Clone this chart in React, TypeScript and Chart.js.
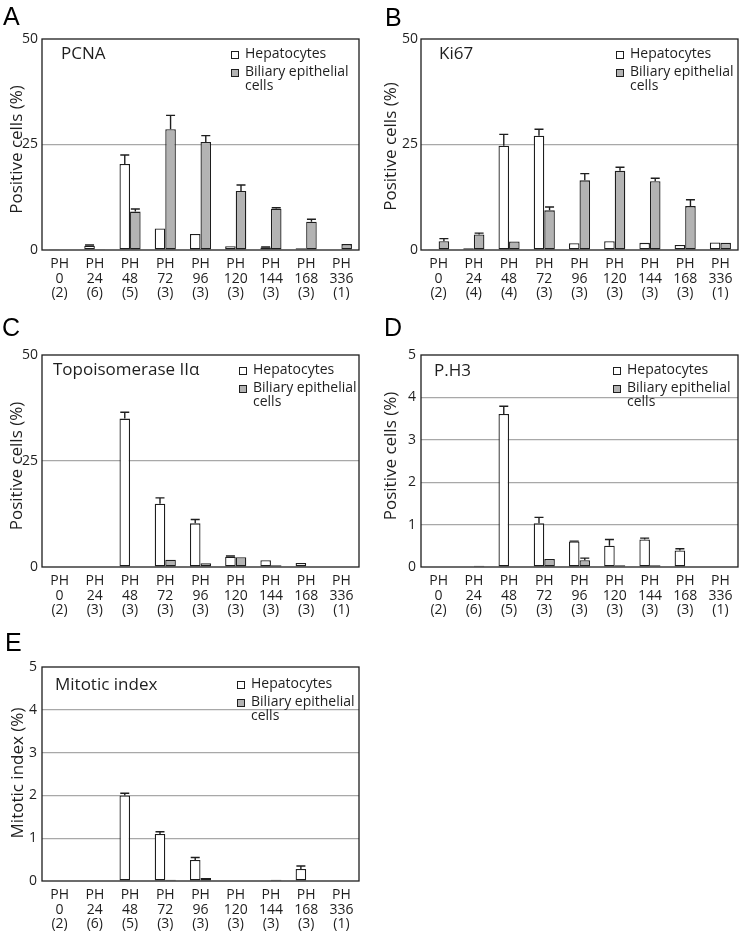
import React, { useEffect, useRef } from 'react';
import { Chart, registerables } from 'chart.js';

Chart.register(...registerables);

const FONT = '"Open Sans", "Noto Sans", sans-serif';
const INK = '#1e1e1e';
const GRAY = '#b3b3b3';
const GRID = '#a8a8a8';

// ---------- data ----------
const timePoints = ['0', '24', '48', '72', '96', '120', '144', '168', '336'];
const nPCNA = ['2', '6', '5', '3', '3', '3', '3', '3', '1'];
const nKi67 = ['2', '4', '4', '3', '3', '3', '3', '3', '1'];
const nTopo = ['2', '3', '3', '3', '3', '3', '3', '3', '1'];
const nPH3 = ['2', '6', '5', '3', '3', '3', '3', '3', '1'];
const nMitotic = ['2', '6', '5', '3', '3', '3', '3', '3', '1'];

const pcnaHep = [0.05, 1.0, 20.4, 5.1, 3.8, 0.9, 0.6, 0.4, 0.1];
const pcnaHepSd = [0, 0.2, 2.1, 0, 0, 0, 0.1, 0, 0];
const pcnaBil = [0.1, 0.2, 9.1, 28.6, 25.6, 14.0, 9.8, 6.7, 1.4];
const pcnaBilSd = [0, 0, 0.6, 3.3, 1.5, 1.4, 0.2, 0.6, 0];

const ki67Hep = [0.05, 0.4, 24.7, 27.1, 1.6, 2.1, 1.7, 1.2, 1.8];
const ki67HepSd = [0, 0, 2.7, 1.5, 0, 0, 0, 0, 0];
const ki67Bil = [2.1, 3.7, 2.0, 9.4, 16.5, 18.8, 16.3, 10.4, 1.7];
const ki67BilSd = [0.6, 0.3, 0, 0.8, 1.6, 0.8, 0.7, 1.5, 0];

const topoHep = [0, 0.1, 35.0, 14.9, 10.3, 2.4, 1.6, 0.95, 0];
const topoHepSd = [0, 0, 1.5, 1.4, 0.9, 0.2, 0, 0, 0];
const topoBil = [0, 0, 0.1, 1.7, 0.9, 2.3, 0.4, 0.1, 0];
const topoBilSd = [0, 0, 0, 0, 0, 0, 0, 0, 0];

const ph3Hep = [0, 0, 3.61, 1.03, 0.6, 0.5, 0.65, 0.39, 0];
const ph3HepSd = [0, 0, 0.18, 0.14, 0.01, 0.15, 0.03, 0.04, 0];
const ph3Bil = [0, 0.03, 0, 0.19, 0.16, 0.04, 0.04, 0, 0];
const ph3BilSd = [0, 0, 0, 0, 0.05, 0, 0, 0, 0];

const mitHep = [0, 0, 2.0, 1.1, 0.49, 0, 0, 0.28, 0];
const mitHepSd = [0, 0, 0.05, 0.05, 0.06, 0, 0, 0.07, 0];
const mitBil = [0, 0, 0, 0.03, 0.07, 0, 0.03, 0, 0];
const mitBilSd = [0, 0, 0, 0, 0, 0, 0, 0, 0];

const ticks50 = [0, 25, 50];
const ticks5 = [0, 1, 2, 3, 4, 5];

const legendHep = 'Hepatocytes';
const legendBil = ['Biliary epithelial', 'cells'];

// ---------- layout ----------
type PanelCfg = {
  letter: string;
  letterPos: [number, number];
  x: number; y: number; w: number; h: number;
  area: { left: number; top: number; right: number; bottom: number };
  title: string; titleDx: number; titleDy: number;
  legDx: number; legDy: number;
  yTitle: string; yTitleX: number; yTitleDy: number; yTickPad: number;
  yMax: number; yTicks: number[];
  n: string[];
  hep: number[]; hepSd: number[]; bil: number[]; bilSd: number[];
};

const panels: PanelCfg[] = [
  {
    letter: 'A', letterPos: [3, 4],
    x: 0, y: 0, w: 371, h: 320,
    area: { left: 42, top: 39, right: 359, bottom: 250 },
    title: 'PCNA', titleDx: 19, titleDy: 15, legDx: -128, legDy: 15,
    yTitle: 'Positive cells (%)', yTitleX: 17, yTitleDy: 5, yTickPad: 4,
    yMax: 50, yTicks: ticks50, n: nPCNA,
    hep: pcnaHep, hepSd: pcnaHepSd, bil: pcnaBil, bilSd: pcnaBilSd,
  },
  {
    letter: 'B', letterPos: [385, 5],
    x: 371, y: 0, w: 371, h: 320,
    area: { left: 50, top: 39, right: 367, bottom: 250 },
    title: 'Ki67', titleDx: 18, titleDy: 15, legDx: -122, legDy: 15,
    yTitle: 'Positive cells (%)', yTitleX: 20, yTitleDy: 2, yTickPad: 3,
    yMax: 50, yTicks: ticks50, n: nKi67,
    hep: ki67Hep, hepSd: ki67HepSd, bil: ki67Bil, bilSd: ki67BilSd,
  },
  {
    letter: 'C', letterPos: [2, 315],
    x: 0, y: 320, w: 371, h: 310,
    area: { left: 42, top: 35, right: 359, bottom: 247 },
    title: 'Topoisomerase IIα', titleDx: 11, titleDy: 15, legDx: -120, legDy: 15,
    yTitle: 'Positive cells (%)', yTitleX: 17, yTitleDy: 5, yTickPad: 4,
    yMax: 50, yTicks: ticks50, n: nTopo,
    hep: topoHep, hepSd: topoHepSd, bil: topoBil, bilSd: topoBilSd,
  },
  {
    letter: 'D', letterPos: [384, 315],
    x: 371, y: 320, w: 371, h: 310,
    area: { left: 50, top: 35, right: 367, bottom: 247 },
    title: 'P.H3', titleDx: 13, titleDy: 16, legDx: -125, legDy: 15,
    yTitle: 'Positive cells (%)', yTitleX: 20, yTitleDy: -5, yTickPad: 5,
    yMax: 5, yTicks: ticks5, n: nPH3,
    hep: ph3Hep, hepSd: ph3HepSd, bil: ph3Bil, bilSd: ph3BilSd,
  },
  {
    letter: 'E', letterPos: [5, 630],
    x: 0, y: 620, w: 371, h: 312,
    area: { left: 42, top: 47, right: 359, bottom: 261 },
    title: 'Mitotic index', titleDx: 13, titleDy: 18, legDx: -122, legDy: 17,
    yTitle: 'Mitotic index (%)', yTitleX: 18, yTitleDy: -1, yTickPad: 5,
    yMax: 5, yTicks: ticks5, n: nMitotic,
    hep: mitHep, hepSd: mitHepSd, bil: mitBil, bilSd: mitBilSd,
  },
];

function Panel({ cfg }: { cfg: PanelCfg }) {
  const ref = useRef<HTMLCanvasElement | null>(null);

  useEffect(() => {
    if (!ref.current) return;
    const sds = [cfg.hepSd, cfg.bilSd];

    const frame = {
      id: 'frame',
      afterDraw(chart: any) {
        const { ctx, chartArea: a } = chart;
        ctx.save();
        ctx.strokeStyle = INK;
        ctx.lineWidth = 1.3;
        ctx.strokeRect(a.left, a.top, a.right - a.left, a.bottom - a.top);
        ctx.restore();
      },
    };

    const errorBars = {
      id: 'errorBars',
      afterDatasetsDraw(chart: any) {
        const { ctx } = chart;
        const yScale = chart.scales.y;
        ctx.save();
        ctx.strokeStyle = INK;
        ctx.lineWidth = 1.4;
        chart.data.datasets.forEach((ds: any, i: number) => {
          const meta = chart.getDatasetMeta(i);
          meta.data.forEach((el: any, j: number) => {
            const sd = sds[i][j];
            if (!sd) return;
            const v = ds.data[j];
            const yTop = yScale.getPixelForValue(v + sd);
            const yBase = yScale.getPixelForValue(v);
            ctx.beginPath();
            ctx.moveTo(el.x, yBase);
            ctx.lineTo(el.x, yTop);
            ctx.moveTo(el.x - 4.5, yTop);
            ctx.lineTo(el.x + 4.5, yTop);
            ctx.stroke();
          });
        });
        ctx.restore();
      },
    };

    const notes = {
      id: 'notes',
      afterDraw(chart: any) {
        const { ctx, chartArea: a } = chart;
        ctx.save();
        ctx.fillStyle = INK;
        // y-axis title
        ctx.save();
        ctx.translate(cfg.yTitleX, (a.top + a.bottom) / 2 + cfg.yTitleDy);
        ctx.rotate(-Math.PI / 2);
        ctx.textAlign = 'center';
        ctx.textBaseline = 'middle';
        ctx.font = `17px ${FONT}`;
        ctx.fillText(cfg.yTitle, 0, 0);
        ctx.restore();
        // panel title
        ctx.textBaseline = 'middle';
        ctx.textAlign = 'left';
        ctx.font = `17px ${FONT}`;
        ctx.fillText(cfg.title, a.left + cfg.titleDx, a.top + cfg.titleDy);
        // legend
        const bx = a.right + cfg.legDx;
        const y1 = a.top + cfg.legDy;
        const y2 = y1 + 18;
        const y3 = y2 + 14;
        ctx.font = `14px ${FONT}`;
        ctx.lineWidth = 1;
        ctx.strokeStyle = INK;
        ctx.fillStyle = '#ffffff';
        ctx.fillRect(bx, y1 - 3, 8, 8);
        ctx.strokeRect(bx + 0.5, y1 - 2.5, 7, 7);
        ctx.fillStyle = GRAY;
        ctx.fillRect(bx, y2 - 3, 8, 8);
        ctx.strokeRect(bx + 0.5, y2 - 2.5, 7, 7);
        ctx.fillStyle = INK;
        ctx.fillText(legendHep, bx + 14, y1);
        ctx.fillText(legendBil[0], bx + 14, y2);
        ctx.fillText(legendBil[1], bx + 14, y3);
        ctx.restore();
      },
    };

    const labels = timePoints.map((t, i) => ['PH', t, `(${cfg.n[i]})`]);

    const chart = new Chart(ref.current, {
      type: 'bar',
      data: {
        labels,
        datasets: [
          {
            label: legendHep,
            data: cfg.hep,
            backgroundColor: '#ffffff',
            borderColor: INK,
            borderWidth: 1.3,
            borderSkipped: false,
            barPercentage: 1.0,
            categoryPercentage: 0.6,
          },
          {
            label: legendBil.join(' '),
            data: cfg.bil,
            backgroundColor: GRAY,
            borderColor: INK,
            borderWidth: 1.3,
            borderSkipped: false,
            barPercentage: 1.0,
            categoryPercentage: 0.6,
          },
        ],
      },
      options: {
        animation: false,
        responsive: false,
        devicePixelRatio: 1,
        layout: {
          padding: { left: 0, top: cfg.area.top, right: cfg.w - cfg.area.right, bottom: 0 },
        },
        plugins: {
          legend: { display: false },
          tooltip: { enabled: false },
        },
        scales: {
          x: {
            grid: { display: false },
            border: { display: false },
            ticks: {
              color: INK,
              autoSkip: false,
              maxRotation: 0,
              padding: -1,
              font: { family: FONT, size: 14, lineHeight: 1.04 },
            },
            afterFit: (s: any) => {
              s.height = cfg.h - cfg.area.bottom;
            },
          },
          y: {
            min: 0,
            max: cfg.yMax,
            afterBuildTicks: (s: any) => {
              s.ticks = cfg.yTicks.map((v) => ({ value: v }));
            },
            grid: {
              drawTicks: false,
              lineWidth: 1.2,
              color: (c: any) =>
                c.tick && (c.tick.value === 0 || c.tick.value === cfg.yMax) ? 'rgba(0,0,0,0)' : GRID,
            },
            border: { display: false },
            ticks: {
              color: INK,
              padding: cfg.yTickPad,
              font: { family: FONT, size: 14 },
            },
            title: { display: false },
            afterFit: (s: any) => {
              s.width = cfg.area.left;
            },
          },
        },
      },
      plugins: [errorBars, frame, notes],
    } as any);

    return () => chart.destroy();
  }, [cfg]);

  return (
    <canvas
      ref={ref}
      width={cfg.w}
      height={cfg.h}
      style={{ position: 'absolute', left: cfg.x, top: cfg.y, width: cfg.w, height: cfg.h }}
    />
  );
}

export default function App() {
  return (
    <div
      style={{
        position: 'absolute',
        left: 0,
        top: 0,
        width: 742,
        height: 932,
        background: '#ffffff',
        overflow: 'hidden',
      }}
    >
      {panels.map((p) => (
        <Panel key={p.letter} cfg={p} />
      ))}
      {panels.map((p) => (
        <div
          key={'L' + p.letter}
          style={{
            position: 'absolute',
            left: p.letterPos[0],
            top: p.letterPos[1],
            fontFamily: '"Liberation Sans", Arial, sans-serif',
            fontSize: 25,
            lineHeight: 1,
            color: '#000',
          }}
        >
          {p.letter}
        </div>
      ))}
    </div>
  );
}
